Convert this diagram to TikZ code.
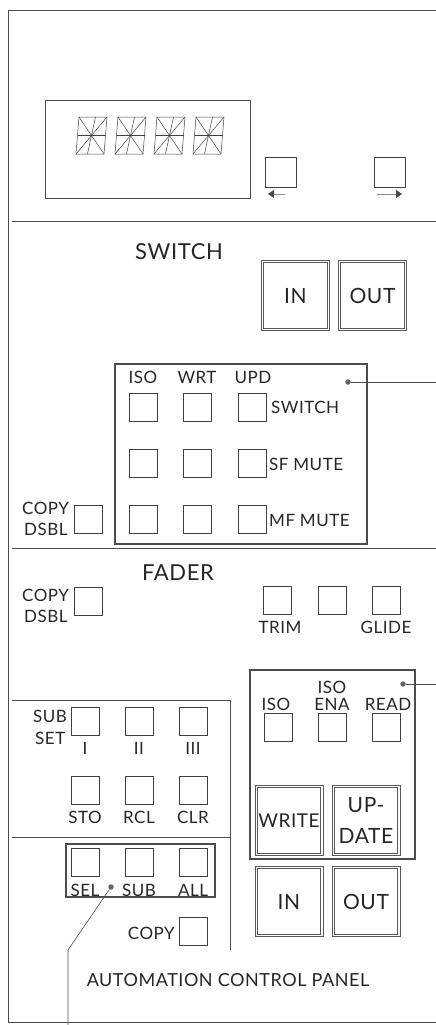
\documentclass[tikz,border=0pt]{standalone}
\usepackage{fontspec}
\setmainfont{Lato}[LetterSpace=3]
\usetikzlibrary{arrows.meta}
\newcommand\innerbox[1]{\draw[inbox] ([shift={(2.6,-2.6)}]#1.south west) rectangle ([shift={(-2.6,2.6)}]#1.north east);}
\begin{document}
\begin{tikzpicture}[x=1pt,y=-1pt,
  line/.style={draw=black!70, line width=0.6pt},
  btn/.style={draw=black!75, line width=0.6pt, minimum width=28pt, minimum height=28pt, inner sep=0pt, fill=white},
  bigbtn/.style={draw=black!65, line width=0.7pt, minimum width=68pt, minimum height=70pt, inner sep=0pt, font=\fontsize{21}{23}\selectfont, text=black!85},
  inbox/.style={draw=black!65, line width=0.7pt},
  thickbox/.style={draw=black!70, line width=2.8pt},
  lbl/.style={inner sep=0pt, font=\fontsize{17}{18}\selectfont, text=black!85},
  title/.style={inner sep=0pt, font=\fontsize{22}{24}\selectfont, text=black!85},
  dot/.style={circle, fill=black!60, inner sep=0pt, minimum size=5.5pt},
  digit/.style={draw=black!75, line width=0.5pt},
  arr/.style={draw=black!45, line width=0.4pt, -{Triangle[length=6pt,width=8pt,color=black!70]}}
]
\useasboundingbox (0,0) rectangle (436,1025);
% panel frame
\draw[line] (436,10) -- (8,10) -- (8,1022) -- (436,1022);
% display
\draw[line] (45,100) rectangle (250,198);
\foreach \x in {76,115,154,193} {
  \draw[digit] (\x,154) -- (\x+28,154) -- (\x+31,117) -- (\x+3,117) -- cycle;
  \draw[digit] (\x+1.5,135.5) -- (\x+29.5,135.5);
  \draw[digit] (\x+19.5,117) -- (\x+11.5,154);
  \draw[digit] (\x+3,117) -- (\x+28,154);
  \draw[digit] (\x+31,117) -- (\x,154);
}
\node[btn, minimum width=31pt, minimum height=30pt] (left) at (280.5,172) {};
\node[btn, minimum width=31pt, minimum height=30pt] (right) at (389.5,172) {};
\coordinate (la1) at (285,194); \coordinate (la2) at (268,194);
\coordinate (ra1) at (377,194); \coordinate (ra2) at (402,194);
\draw[arr] (la1) -- (la2);
\draw[arr] (ra1) -- (ra2);
\draw[line] (12,221) -- (436,221);
% switch section
\node[title] (switch) at (179,252) {SWITCH};
\node[bigbtn] (swin) at (295.5,295.5) {IN};
\node[bigbtn] (swout) at (372.5,295.5) {OUT};
\innerbox{swin}\innerbox{swout}
\node[lbl] (iso1) at (143,377) {ISO};
\node[lbl] (wrt) at (197,377) {WRT};
\node[lbl] (upd) at (253,377) {UPD};
\foreach \r/\y in {1/407.5,2/463.5,3/519.5} {
  \foreach \c/\x in {1/143,2/197,3/252} {
    \node[btn] (m\r\c) at (\x,\y) {};
  }
}
\node[lbl, anchor=west] (lsw) at (271,407) {SWITCH};
\node[lbl, anchor=west] (lsf) at (269,464) {SF MUTE};
\node[lbl, anchor=west] (lmf) at (269,520) {MF MUTE};
\draw[thickbox] (115,364) rectangle (367,544);
\node[dot] (d1) at (348,382) {};
\coordinate (e1) at (436,382);
\draw[line] (d1) -- (e1);
\node[lbl, anchor=west] (copy1) at (22,508) {COPY};
\node[lbl, anchor=west] (dsbl1) at (24,529) {DSBL};
\node[btn] (cd1) at (88,519.5) {};
\draw[line] (12,548) -- (436,548);
% fader section
\node[title] (fader) at (178,573) {FADER};
\node[lbl, anchor=west] (copy2) at (22,595) {COPY};
\node[lbl, anchor=west] (dsbl2) at (24,616) {DSBL};
\node[btn] (cd2) at (88,601.5) {};
\node[btn] (f1) at (277,600.5) {};
\node[btn] (f2) at (332,600.5) {};
\node[btn] (f3) at (386,600.5) {};
\node[lbl] (trim) at (280,627) {TRIM};
\node[lbl] (glide) at (386,627) {GLIDE};
\draw[thickbox] (250,670) rectangle (415,859);
\node[dot] (d2) at (403,684) {};
\coordinate (e2) at (436,684);
\draw[line] (d2) -- (e2);
\node[lbl] (iso2) at (276,704) {ISO};
\node[lbl] (iso3) at (332,687) {ISO};
\node[lbl] (ena) at (332,704) {ENA};
\node[lbl] (read) at (388,704) {READ};
\node[btn] (r1) at (278,727) {};
\node[btn] (r2) at (332,727) {};
\node[btn] (r3) at (386,727) {};
\node[bigbtn, font=\fontsize{19}{21}\selectfont] (write) at (289,820.5) {WRITE};
\node[bigbtn, align=center, font=\fontsize{21}{31}\selectfont] (update) at (366,820.5) {UP-\\DATE};
\node[bigbtn] (fin) at (289,901.5) {IN};
\node[bigbtn] (fout) at (366,901.5) {OUT};
\innerbox{write}\innerbox{update}\innerbox{fin}\innerbox{fout}
% subset area
\draw[line] (12,700) -- (230,700) -- (230,950);
\node[lbl, anchor=west] (sub) at (33,716) {SUB};
\node[lbl, anchor=west] (set) at (35,738) {SET};
\node[btn] (s1) at (85,721.5) {};
\node[btn] (s2) at (139,721.5) {};
\node[btn] (s3) at (193,721.5) {};
\node[lbl] (ti) at (85,748) {I};
\node[lbl] (tii) at (139,748) {II};
\node[lbl] (tiii) at (193,748) {III};
\node[btn] (s4) at (85,790.5) {};
\node[btn] (s5) at (139,790.5) {};
\node[btn] (s6) at (193,790.5) {};
\node[lbl] (sto) at (85,817) {STO};
\node[lbl] (rcl) at (139,817) {RCL};
\node[lbl] (clr) at (193,817) {CLR};
\draw[line] (12,837) -- (230,837);
\node[btn] (a1) at (85,862) {};
\node[btn] (a2) at (139,862) {};
\node[btn] (a3) at (193,862) {};
\node[lbl] (sel) at (85,890) {SEL};
\node[lbl] (subl) at (139,890) {SUB};
\node[lbl] (all) at (193,890) {ALL};
\draw[thickbox] (66,844) rectangle (215,897);
\node[dot] (d3) at (111,887) {};
\coordinate (k3) at (68,950);
\coordinate (e3) at (68,1025);
\draw[line] (d3) -- (k3) -- (e3);
\node[lbl, anchor=east] (copy3) at (175,933) {COPY};
\node[btn] (cp) at (193.5,931.5) {};
\node[lbl, font=\fontsize{18}{20}\selectfont] (acp) at (228,980) {AUTOMATION CONTROL PANEL};
\end{tikzpicture}
\end{document}
